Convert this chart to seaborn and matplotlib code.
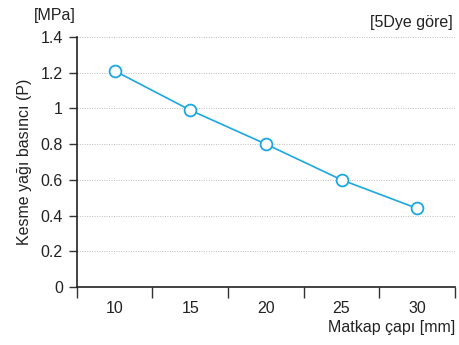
import matplotlib
matplotlib.use("Agg")
import matplotlib.pyplot as plt
import seaborn as sns
import pandas as pd
import numpy as np

# data
diameters = ["10", "15", "20", "25", "30"]
pressure = [1.21, 0.99, 0.80, 0.60, 0.44]
y_ticks = [0, 0.2, 0.4, 0.6, 0.8, 1.0, 1.2, 1.4]
y_tick_labels = ["0", "0.2", "0.4", "0.6", "0.8", "1", "1.2", "1.4"]

df = pd.DataFrame({"Matkap": diameters, "Basinc": pressure})

sns.set_style("white")
plt.rcParams["font.family"] = ["Liberation Sans", "DejaVu Sans"]
fs = 11.5

line_color = "#1ba8e2"
text_color = "#222222"

fig = plt.figure(figsize=(4.6, 3.45), dpi=100)
ax = fig.add_axes([0.167, 0.168, 0.822, 0.725])

sns.pointplot(
    data=df,
    x="Matkap",
    y="Basinc",
    color=line_color,
    markers="o",
    markersize=8.5,
    markerfacecolor="white",
    markeredgewidth=1.3,
    linewidth=1.2,
    errorbar=None,
    ax=ax
)

ax.set_xlim(-0.5, len(diameters) - 0.5)
ax.set_ylim(0, 1.4)

# y axis
ax.set_yticks(y_ticks)
ax.set_yticklabels(y_tick_labels, fontsize=fs, color=text_color)
ax.yaxis.grid(True, linestyle=(0, (1, 1.5)), color="#bdbdbd", linewidth=0.7)
ax.set_axisbelow(True)

# x axis: ticks between categories, labels centered
ax.set_xticks(np.arange(len(diameters)))
ax.set_xticklabels(diameters, fontsize=fs, color=text_color)
ax.set_xticks(np.arange(len(diameters) + 1) - 0.5, minor=True)
ax.tick_params(axis="x", which="major", length=0, pad=10)
ax.tick_params(axis="x", which="minor", length=8, width=1, color="#333333", direction="out", bottom=True)
ax.tick_params(axis="y", length=6, width=1, color="#333333", direction="out", left=True, pad=4)

for side in ["top", "right"]:
    ax.spines[side].set_visible(False)
for side in ["left", "bottom"]:
    ax.spines[side].set_color(text_color)
    ax.spines[side].set_linewidth(1.2)

ax.set_xlabel("")
ax.set_ylabel("Kesme yağı basıncı (P)", fontsize=fs, color=text_color, labelpad=6)

fig.text(0.074, 0.955, "[MPa]", fontsize=fs, color=text_color, ha="left", va="center")
fig.text(0.985, 0.935, "[5Dye göre]", fontsize=fs, color=text_color, ha="right", va="center")
fig.text(0.99, 0.05, "Matkap çapı [mm]", fontsize=fs, color=text_color, ha="right", va="center")

plt.savefig("out.png", dpi=100)
